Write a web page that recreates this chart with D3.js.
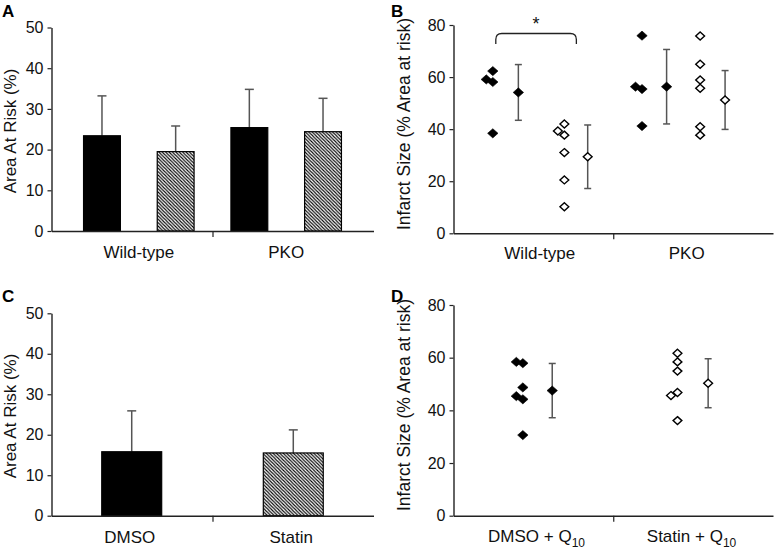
<!DOCTYPE html>
<html>
<head>
<meta charset="utf-8">
<script src="https://cdn.jsdelivr.net/npm/d3@7"></script>
<style>
  html, body { margin: 0; padding: 0; background: #fff; }
  svg { display: block; font-family: "Liberation Sans", Arial, sans-serif; }
</style>
</head>
<body>
<svg id="chart" width="777" height="551"></svg>
<script>
// ---------------- DATA ----------------
// Panel A: Area at risk (%) – vehicle (black) vs statin (hatched)
const groupsA = ["Wild-type", "PKO"];
const seriesA = ["Vehicle", "Statin"];
const meanA = [[23.4, 19.5], [25.4, 24.4]];
const sdA   = [[9.8, 6.3], [9.4, 8.2]];
const yTicksA = [0, 10, 20, 30, 40, 50];

// Panel B: Infarct size (% area at risk), individual animals + mean ± SD
const groupsB = ["Wild-type", "PKO"];
const wtVehB   = [62.3, 59.1, 58.1, 38.4];
const wtStatB  = [42.0, 39.3, 37.7, 31.0, 20.5, 10.2];
const pkoVehB  = [75.9, 56.3, 55.4, 41.2];
const pkoStatB = [75.8, 64.9, 58.9, 55.7, 40.9, 37.7];
const meanB = [54.1, 29.4, 56.3, 51.2];
const sdB   = [10.7, 12.2, 14.3, 11.3];
const yTicksB = [0, 20, 40, 60, 80];

// Panel C: Area at risk (%)
const groupsC = ["DMSO", "Statin"];
const meanC = [15.8, 15.5];
const sdC   = [10.1, 5.7];
const yTicksC = [0, 10, 20, 30, 40, 50];

// Panel D: Infarct size with Q10
const groupsD = ["DMSO + Q", "Statin + Q"];
const dmsoQD   = [58.4, 57.9, 48.7, 45.4, 44.2, 30.6];
const statinQD = [61.7, 58.4, 54.9, 46.8, 45.6, 36.1];
const meanD = [47.5, 50.3];
const sdD   = [10.3, 9.3];
const yTicksD = [0, 20, 40, 60, 80];

// ---------------- LAYOUT (not data) ----------------
// column positions as a fraction of axis width; jitter flags shift overlapping points left
const layoutB = {
  ptsX:  [0.123, 0.347, 0.59, 0.772],
  meanX: [0.203, 0.42, 0.667, 0.85],
  jitter: [[0, 1, 0, 0], [0, 1, 0, 0, 0, 0], [0, 1, 0, 0], [0, 0, 0, 0, 0, 0]],
  labelX: [0.27, 0.73]
};
const layoutD = {
  ptsX:  [0.217, 0.701],
  meanX: [0.309, 0.797],
  jitter: [[1, 0, 0, 1, 0, 0], [0, 0, 0, 0, 1, 0]],
  labelX: [0.26, 0.745]
};

const FONT = '"Liberation Sans", Arial, sans-serif';
const AXIS_COL = "#222";
const ERR_COL = "#555";

const svg = d3.select("#chart");

// hatch pattern
const defs = svg.append("defs");
const pat = defs.append("pattern")
  .attr("id", "hatch").attr("patternUnits", "userSpaceOnUse")
  .attr("width", 3.4).attr("height", 3.4);
pat.append("rect").attr("width", 3.4).attr("height", 3.4).attr("fill", "#fff");
pat.append("path")
  .attr("d", "M-1,-1 L4.4,4.4 M-1,2.4 L1,4.4 M2.4,-1 L4.4,1")
  .attr("stroke", "#000").attr("stroke-width", 1.1);

function diamond(w, h) {
  return `M0,${-h} L${w},0 L0,${h} L${-w},0 Z`;
}

function yAxis(g, y, ticks, x0) {
  const ax = g.append("g").attr("transform", `translate(${x0},0)`)
    .call(d3.axisLeft(y).tickValues(ticks).tickSize(4).tickSizeOuter(0).tickPadding(4));
  ax.select(".domain").attr("stroke", AXIS_COL).attr("stroke-width", 1.4);
  ax.selectAll(".tick line").attr("stroke", AXIS_COL).attr("stroke-width", 1.2);
  ax.selectAll(".tick text").attr("font-size", 16).attr("font-family", FONT).attr("fill", "#111");
}

function xAxisLine(g, x0, x1, yb) {
  const xs = d3.scaleLinear().domain([0, 1]).range([x0, x1]);
  const ax = g.append("g").attr("transform", `translate(0,${yb})`)
    .call(d3.axisBottom(xs).tickValues([0.5]).tickSize(6).tickSizeOuter(0).tickFormat(""));
  ax.select(".domain").attr("stroke", AXIS_COL).attr("stroke-width", 1.4);
  ax.selectAll(".tick line").attr("stroke", AXIS_COL).attr("stroke-width", 1.2);
  return xs;
}

function panelLabel(txt, x, y) {
  svg.append("text").attr("x", x).attr("y", y).text(txt)
    .attr("font-size", 17).attr("font-weight", "bold").attr("font-family", FONT).attr("fill", "#000");
}

function yTitle(txt, cx, cy, size) {
  svg.append("text").attr("transform", `translate(${cx},${cy}) rotate(-90)`)
    .attr("text-anchor", "middle").attr("dominant-baseline", "central")
    .attr("font-size", size).attr("font-family", FONT).attr("fill", "#111").text(txt);
}

function xLabel(g, txt, x, y, sub) {
  const t = g.append("text").attr("x", x).attr("y", y).attr("text-anchor", "middle")
    .attr("font-size", 17).attr("font-family", FONT).attr("fill", "#111");
  t.append("tspan").text(txt);
  if (sub) t.append("tspan").text(sub).attr("font-size", 12).attr("dy", 5);
}

// -------- Bar panels --------
function barPanel(opt) {
  const g = svg.append("g");
  const y = d3.scaleLinear().domain([0, opt.ymax]).range([opt.yb, opt.yt]);
  // bars
  opt.bars.forEach(b => {
    const bx = opt.x(b.key);
    const bw = opt.x.bandwidth();
    // error bar (upper only)
    const cx = bx + bw / 2;
    g.append("line").attr("x1", cx).attr("x2", cx).attr("y1", y(b.v)).attr("y2", y(b.v + b.sd))
      .attr("stroke", ERR_COL).attr("stroke-width", 1.5);
    g.append("line").attr("x1", cx - 4.5).attr("x2", cx + 4.5).attr("y1", y(b.v + b.sd)).attr("y2", y(b.v + b.sd))
      .attr("stroke", ERR_COL).attr("stroke-width", 1.5);
    g.append("rect").attr("x", bx).attr("width", bw)
      .attr("y", y(b.v)).attr("height", y(0) - y(b.v))
      .attr("fill", b.hatch ? "url(#hatch)" : "#000")
      .attr("stroke", "#000").attr("stroke-width", 1.2);
  });
  yAxis(g, y, opt.ticks, opt.x0);
  xAxisLine(g, opt.x0, opt.x1, opt.yb);
  opt.labels.forEach(l => xLabel(g, l.text, l.x, opt.labelY));
}

// Panel A
{
  const keys = [];
  groupsA.forEach(gn => seriesA.forEach(s => keys.push(gn + "|" + s)));
  const x = d3.scaleBand().domain(keys).range([51.5, 373.5]).paddingInner(0.5).paddingOuter(0.435);
  const bars = [];
  groupsA.forEach((gn, i) => seriesA.forEach((s, j) =>
    bars.push({ key: gn + "|" + s, v: meanA[i][j], sd: sdA[i][j], hatch: j === 1 })));
  const labels = groupsA.map(gn => ({
    text: gn,
    x: (x(gn + "|" + seriesA[0]) + x(gn + "|" + seriesA[1]) + x.bandwidth()) / 2
  }));
  barPanel({ x, x0: 51.5, x1: 373.5, yb: 231, yt: 27.5, ymax: 50, ticks: yTicksA, bars, labels, labelY: 258 });
  panelLabel("A", 2, 17);
  yTitle("Area At Risk (%)", 10, 131, 17);
}

// Panel C
{
  const x = d3.scaleBand().domain(groupsC).range([51.5, 373.5]).paddingInner(0.629).paddingOuter(0.311);
  const bars = groupsC.map((gn, i) => ({ key: gn, v: meanC[i], sd: sdC[i], hatch: i === 1 }));
  const labels = groupsC.map(gn => ({ text: gn, x: x(gn) + x.bandwidth() / 2 - 2 }));
  barPanel({ x, x0: 51.5, x1: 373.5, yb: 515.7, yt: 313.3, ymax: 50, ticks: yTicksC, bars, labels, labelY: 542.5 });
  panelLabel("C", 2, 301.5);
  yTitle("Area At Risk (%)", 10, 416, 17);
}

// -------- Scatter panels --------
function scatterPanel(opt) {
  const g = svg.append("g");
  const y = d3.scaleLinear().domain([0, opt.ymax]).range([opt.yb, opt.yt]);
  yAxis(g, y, opt.ticks, opt.x0);
  const xs = xAxisLine(g, opt.x0, opt.x1, opt.yb);
  const jit = 6.5;
  opt.series.forEach((s, i) => {
    const px = xs(opt.layout.ptsX[i]);
    const mx = xs(opt.layout.meanX[i]);
    const shape = s.filled ? diamond(5.2, 4.6) : diamond(4.4, 4);
    // individual points
    g.selectAll(null).data(s.values).enter().append("path")
      .attr("d", shape)
      .attr("transform", (v, k) => `translate(${px - opt.layout.jitter[i][k] * jit},${y(v)})`)
      .attr("fill", s.filled ? "#000" : "#fff")
      .attr("stroke", "#000").attr("stroke-width", s.filled ? 0.6 : 1.4);
    // mean ± SD
    const top = y(s.mean + s.sd), bot = y(s.mean - s.sd);
    g.append("line").attr("x1", mx).attr("x2", mx).attr("y1", top).attr("y2", bot)
      .attr("stroke", ERR_COL).attr("stroke-width", 1.5);
    [top, bot].forEach(yy => g.append("line").attr("x1", mx - 3.5).attr("x2", mx + 3.5)
      .attr("y1", yy).attr("y2", yy).attr("stroke", ERR_COL).attr("stroke-width", 1.5));
    g.append("path").attr("d", shape).attr("transform", `translate(${mx},${y(s.mean)})`)
      .attr("fill", s.filled ? "#000" : "#fff")
      .attr("stroke", "#000").attr("stroke-width", s.filled ? 0.6 : 1.4);
  });
  opt.labels.forEach((t, i) => xLabel(g, t, xs(opt.layout.labelX[i]), opt.labelY, opt.sub));
  return { g, xs, y };
}

// Panel B
{
  const series = [
    { values: wtVehB, filled: true, mean: meanB[0], sd: sdB[0] },
    { values: wtStatB, filled: false, mean: meanB[1], sd: sdB[1] },
    { values: pkoVehB, filled: true, mean: meanB[2], sd: sdB[2] },
    { values: pkoStatB, filled: false, mean: meanB[3], sd: sdB[3] }
  ];
  const r = scatterPanel({ x0: 453.5, x1: 773, yb: 233.3, yt: 25, ymax: 80, ticks: yTicksB,
    series, layout: layoutB, labels: groupsB, labelY: 258.5 });
  // significance bracket between WT vehicle and WT statin
  const xl = r.xs(layoutB.ptsX[0]) + 3, xr = r.xs(layoutB.ptsX[1]) + 12;
  const yt = 33.5, yb2 = 44, rr = 6;
  r.g.append("path")
    .attr("d", `M${xl},${yb2} L${xl},${yt + rr} Q${xl},${yt} ${xl + rr},${yt} L${xr - rr},${yt} Q${xr},${yt} ${xr},${yt + rr} L${xr},${yb2}`)
    .attr("fill", "none").attr("stroke", "#222").attr("stroke-width", 1.3);
  r.g.append("text").attr("x", (xl + xr) / 2).attr("y", 30).attr("text-anchor", "middle")
    .attr("font-size", 18).attr("font-family", FONT).attr("fill", "#111").text("*");
  panelLabel("B", 391, 17);
  yTitle("Infarct Size (% Area at risk)", 403.5, 124, 17.5);
}

// Panel D
{
  const series = [
    { values: dmsoQD, filled: true, mean: meanD[0], sd: sdD[0] },
    { values: statinQD, filled: false, mean: meanD[1], sd: sdD[1] }
  ];
  scatterPanel({ x0: 453.5, x1: 773, yb: 515.7, yt: 305, ymax: 80, ticks: yTicksD,
    series, layout: layoutD, labels: groupsD, labelY: 541.5, sub: "10" });
  panelLabel("D", 391, 301.5);
  yTitle("Infarct Size (% Area at risk)", 403.5, 405, 17.5);
}
</script>
</body>
</html>
